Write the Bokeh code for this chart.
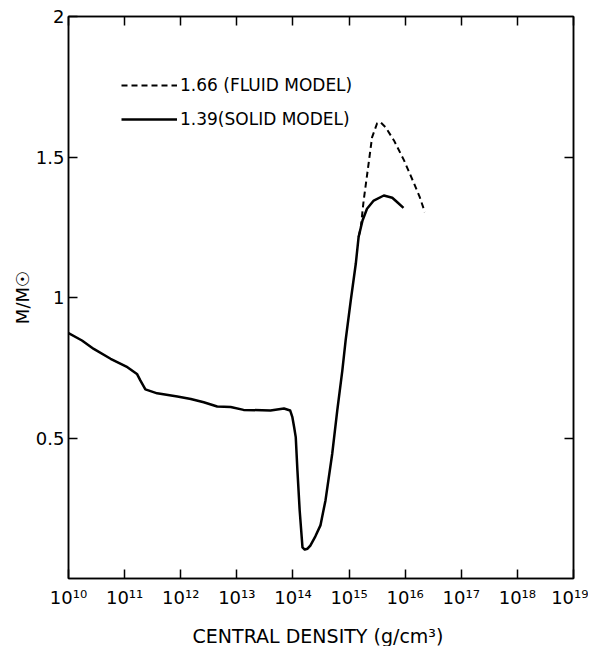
from bokeh.plotting import figure
from bokeh.models import FixedTicker, LinearAxis, CustomJSTickFormatter, Legend, LegendItem
from bokeh.embed import file_html
from bokeh.resources import INLINE

# log10 of central density (g/cm^3) and M/Msun
solid_logrho = [10.00, 10.24, 10.45, 10.75, 11.05, 11.22, 11.28, 11.37, 11.58, 11.94,
                12.18, 12.41, 12.65, 12.89, 13.12, 13.60, 13.84, 13.95, 13.99, 14.02,
                14.05, 14.08, 14.12, 14.17, 14.21, 14.26, 14.31, 14.40, 14.49, 14.58,
                14.70, 14.79, 14.88, 14.94, 15.03, 15.12, 15.17, 15.24, 15.32, 15.44,
                15.62, 15.77, 15.86, 15.97]
solid_mass = [0.873, 0.847, 0.817, 0.782, 0.752, 0.728, 0.705, 0.673, 0.659, 0.648,
              0.639, 0.627, 0.612, 0.610, 0.600, 0.598, 0.605, 0.598, 0.574, 0.540,
              0.503, 0.384, 0.242, 0.111, 0.103, 0.106, 0.117, 0.150, 0.189, 0.278,
              0.444, 0.598, 0.740, 0.849, 0.989, 1.120, 1.215, 1.274, 1.316, 1.345,
              1.363, 1.355, 1.339, 1.319]

fluid_logrho = [15.17, 15.21, 15.26, 15.34, 15.41, 15.50, 15.56, 15.65, 15.80, 15.98,
                16.16, 16.26, 16.35]
fluid_mass = [1.215, 1.250, 1.345, 1.464, 1.570, 1.620, 1.624, 1.606, 1.559, 1.488,
              1.405, 1.357, 1.304]

x_ticks = [10, 11, 12, 13, 14, 15, 16, 17, 18, 19]
y_ticks = [0.5, 1, 1.5, 2]
right_ticks = [0.5, 1.5]

labels = ["1.66 (FLUID MODEL)", "1.39(SOLID MODEL)"]

FONT = "DejaVu Sans"

p = figure(frame_width=505, frame_height=562, x_range=(10, 19), y_range=(0, 2),
           output_backend="svg", toolbar_location=None,
           min_border_left=68, min_border_right=15, min_border_top=16, min_border_bottom=60)
p.grid.visible = False
p.outline_line_color = "black"
p.outline_line_width = 1.5
p.background_fill_color = "white"
p.border_fill_color = "white"

fluid_r = p.line(fluid_logrho, fluid_mass, line_color="black", line_width=2, line_dash="6 4")
solid_r = p.line(solid_logrho, solid_mass, line_color="black", line_width=2.5,
                 line_join="round")

sup_js = """
const sup = ['\u2070','\u00b9','\u00b2','\u00b3','\u2074','\u2075','\u2076','\u2077','\u2078','\u2079'];
const e = Math.round(tick);
return '10' + String(e).split('').map(d => sup[+d]).join('');
"""

xa = p.xaxis[0]
xa.ticker = FixedTicker(ticks=x_ticks)
xa.formatter = CustomJSTickFormatter(code=sup_js)
xa.axis_label = "CENTRAL DENSITY  (g/cm\u00b3)"

ya = p.yaxis[0]
ya.ticker = FixedTicker(ticks=y_ticks)
ya.formatter = CustomJSTickFormatter(code="return tick.toString();")
ya.axis_label = "M/M\u2609"

for ax in (xa, ya):
    ax.major_tick_in = 9
    ax.major_tick_out = 0
    ax.minor_tick_line_color = None
    ax.major_tick_line_width = 1.5
    ax.axis_line_width = 1.5
    ax.axis_line_color = "black"
    ax.major_label_text_font = FONT
    ax.major_label_text_font_size = "18px"
    ax.major_label_text_color = "black"
    ax.axis_label_text_font = FONT
    ax.axis_label_text_font_style = "normal"
    ax.axis_label_text_color = "black"

xa.major_label_standoff = 8
xa.axis_label_text_font_size = "19px"
xa.axis_label_standoff = 14
ya.major_label_standoff = 4
ya.axis_label_text_font_size = "18px"
ya.axis_label_standoff = 0

empty = "return '';"
top = LinearAxis(ticker=FixedTicker(ticks=x_ticks), formatter=CustomJSTickFormatter(code=empty),
                 major_tick_in=9, major_tick_out=0, minor_tick_line_color=None,
                 major_label_standoff=0, axis_line_width=1.5, major_tick_line_width=1.5)
p.add_layout(top, "above")
right = LinearAxis(ticker=FixedTicker(ticks=right_ticks), formatter=CustomJSTickFormatter(code=empty),
                   major_tick_in=9, major_tick_out=0, minor_tick_line_color=None,
                   major_label_standoff=0, axis_line_width=1.5, major_tick_line_width=1.5)
p.add_layout(right, "right")

legend = Legend(items=[LegendItem(label=labels[0], renderers=[fluid_r]),
                       LegendItem(label=labels[1], renderers=[solid_r])],
                location=(53, 449), padding=0, margin=0, spacing=14,
                glyph_width=56, glyph_height=20, label_height=20, label_standoff=3,
                label_text_font=FONT, label_text_font_size="17px", label_text_color="black",
                border_line_color=None, background_fill_alpha=0)
p.add_layout(legend, "center")

open("out.html", "w").write(file_html(p, INLINE))
